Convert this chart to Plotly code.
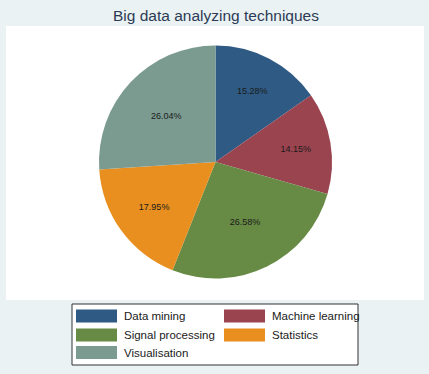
import plotly.graph_objects as go

title = "Big data analyzing techniques"
categories = ["Data mining", "Machine learning", "Signal processing", "Statistics", "Visualisation"]
shares = [15.28, 14.15, 26.58, 17.95, 26.04]
colors = ["#2f5a83", "#9a4450", "#678b45", "#e98f1f", "#7b9b91"]

W, H = 429, 374
FONT = "Liberation Sans, Arial, sans-serif"

def px(x):
    return x / W

def py(y):
    return 1 - y / H

fig = go.Figure()

# pie centre (215.5, 162) diameter ~233 px
cx, cy, d = 215.5, 162, 233
fig.add_trace(go.Pie(
    labels=categories,
    values=shares,
    sort=False,
    direction="clockwise",
    rotation=0,
    marker=dict(colors=colors, line=dict(width=0)),
    texttemplate="%{percent:.2%}",
    textposition="inside",
    insidetextorientation="horizontal",
    textfont=dict(family=FONT, size=9, color="#1a1a1a"),
    hoverinfo="label+percent",
    showlegend=False,
    domain=dict(x=[px(cx - d / 2), px(cx + d / 2)], y=[py(cy + d / 2), py(cy - d / 2)]),
))

shapes = []
# white plot region
shapes.append(dict(type="rect", xref="paper", yref="paper", layer="below",
                   x0=px(6), x1=px(424), y0=py(300), y1=py(26),
                   fillcolor="white", line=dict(width=0)))
# legend box
shapes.append(dict(type="rect", xref="paper", yref="paper",
                   x0=px(72), x1=px(358), y0=py(365), y1=py(304),
                   fillcolor="white", line=dict(color="#333333", width=1)))

annotations = []
col_x = [76, 224]
row_y = [316, 335, 352.5]
for i, (name, col) in enumerate(zip(categories, colors)):
    c = i % 2
    r = i // 2
    x0 = col_x[c]
    yc = row_y[r]
    shapes.append(dict(type="rect", xref="paper", yref="paper",
                       x0=px(x0), x1=px(x0 + 41), y0=py(yc + 6.5), y1=py(yc - 6.5),
                       fillcolor=col, line=dict(width=0)))
    annotations.append(dict(text=name, xref="paper", yref="paper",
                            x=px(x0 + 46), y=py(yc), xanchor="left", yanchor="middle",
                            showarrow=False,
                            font=dict(family=FONT, size=11.5, color="#1a1a1a")))

annotations.append(dict(text=title, xref="paper", yref="paper",
                        x=px(215.5), y=py(15), xanchor="center", yanchor="middle",
                        showarrow=False,
                        font=dict(family=FONT, size=15.5, color="#2d3a55")))

fig.update_layout(
    width=W, height=H,
    margin=dict(l=0, r=0, t=0, b=0),
    paper_bgcolor="#eaf2f3",
    plot_bgcolor="#eaf2f3",
    shapes=shapes,
    annotations=annotations,
    showlegend=False,
)

fig.write_html("out.html", config={"displayModeBar": False})
